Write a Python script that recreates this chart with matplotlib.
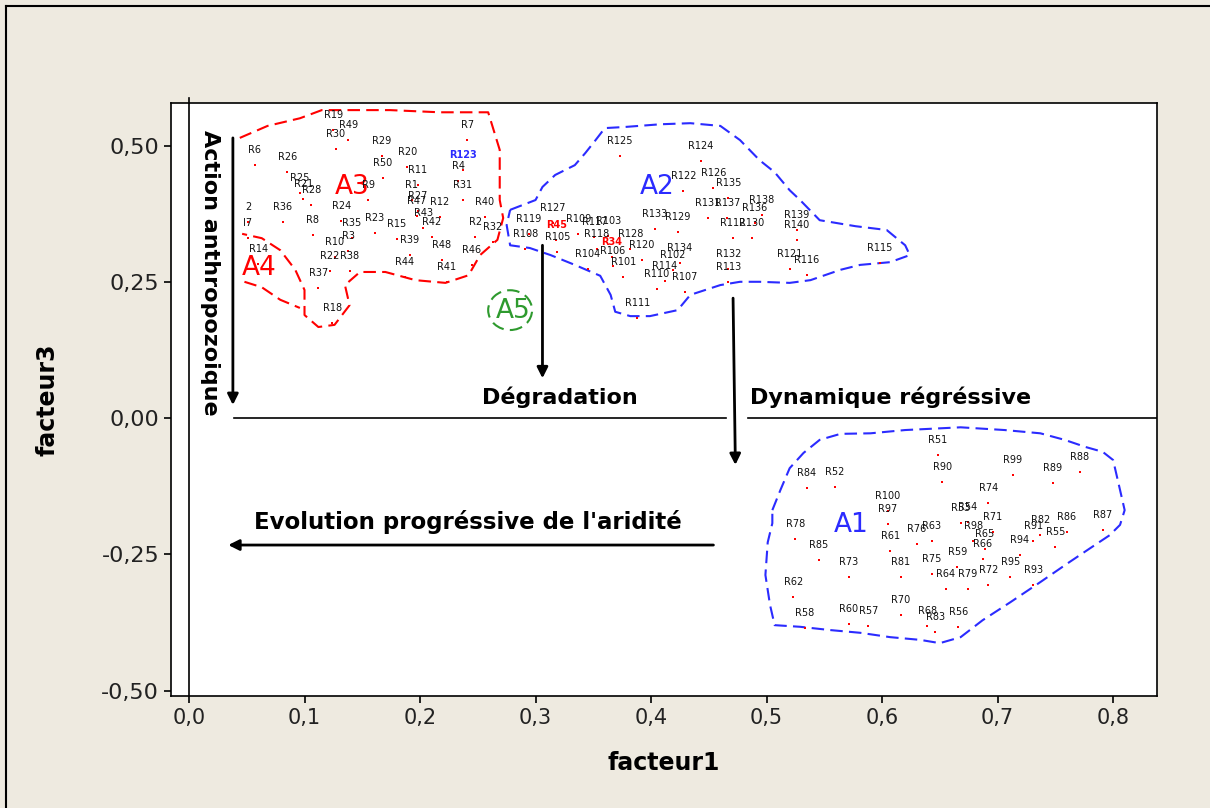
import matplotlib.pyplot as plt
from matplotlib.lines import Line2D
from matplotlib.patches import Ellipse

bg = '#EEEAE0'
red = '#FF0000'
blue = '#2B2BFF'
green = '#2E9A2E'

# groupe A3 / A4 (relevés anthropisés)
a34_names = ['R6', 'R26', 'R19', 'R49', 'R30', 'R25', 'R21', 'R28', '2', 'I7',
             'R36', 'R24', 'R14', 'R8', 'R35', 'R23', 'R15', 'R10', 'R3', 'R22',
             'R38', 'R37', 'R18', 'R29', 'R20', 'R50', 'R11', 'R1', 'R9', 'R7',
             'R4', 'R31', 'R40', 'R27', 'R47', 'R12', 'R43', 'R42', 'R2', 'R32',
             'R39', 'R48', 'R46', 'R44', 'R41']
a34_f1 = [0.057, 0.085, 0.125, 0.138, 0.127, 0.096, 0.099, 0.106, 0.051, 0.051,
          0.081, 0.132, 0.060, 0.107, 0.141, 0.161, 0.180, 0.126, 0.138, 0.122,
          0.139, 0.112, 0.124, 0.167, 0.189, 0.168, 0.198, 0.193, 0.155, 0.241,
          0.233, 0.237, 0.256, 0.198, 0.197, 0.217, 0.203, 0.210, 0.248, 0.263,
          0.191, 0.219, 0.245, 0.187, 0.223]
a34_f3 = [0.464, 0.451, 0.528, 0.510, 0.494, 0.413, 0.402, 0.391, 0.360, 0.330,
          0.360, 0.361, 0.283, 0.336, 0.330, 0.339, 0.328, 0.295, 0.306, 0.270,
          0.270, 0.239, 0.174, 0.481, 0.461, 0.440, 0.428, 0.400, 0.400, 0.510,
          0.435, 0.400, 0.369, 0.380, 0.371, 0.369, 0.349, 0.332, 0.332, 0.323,
          0.299, 0.290, 0.281, 0.259, 0.250]

# groupe A2
a2_names = ['R125', 'R124', 'R122', 'R126', 'R135', 'R127', 'R119', 'R108', 'R105', 'R109',
            'R117', 'R103', 'R118', 'R128', 'R106', 'R104', 'R120', 'R101', 'R133', 'R129',
            'R134', 'R102', 'R114', 'R110', 'R107', 'R111', 'R131', 'R137', 'R138', 'R136',
            'R112', 'R130', 'R139', 'R140', 'R132', 'R113', 'R121', 'R116', 'R115']
a2_f1 = [0.373, 0.443, 0.428, 0.454, 0.467, 0.315, 0.294, 0.291, 0.319, 0.337,
         0.351, 0.363, 0.353, 0.382, 0.367, 0.345, 0.392, 0.376, 0.403, 0.423,
         0.425, 0.419, 0.412, 0.405, 0.429, 0.388, 0.449, 0.466, 0.496, 0.490,
         0.471, 0.487, 0.526, 0.526, 0.467, 0.467, 0.520, 0.535, 0.598]
a2_f3 = [0.481, 0.472, 0.417, 0.422, 0.404, 0.358, 0.338, 0.310, 0.305, 0.338,
         0.332, 0.334, 0.310, 0.310, 0.279, 0.273, 0.290, 0.259, 0.347, 0.341,
         0.284, 0.272, 0.251, 0.237, 0.231, 0.183, 0.367, 0.367, 0.372, 0.358,
         0.330, 0.330, 0.345, 0.327, 0.273, 0.250, 0.273, 0.262, 0.284]

# groupe A1
a1_names = ['R51', 'R90', 'R84', 'R52', 'R100', 'R97', 'R78', 'R61', 'R76', 'R63',
            'R99', 'R89', 'R88', 'R74', 'R53', 'R54', 'R71', 'R86', 'R87', 'R55',
            'R85', 'R73', 'R62', 'R58', 'R60', 'R57', 'R81', 'R75', 'R70', 'R68',
            'R83', 'R64', 'R79', 'R72', 'R59', 'R56', 'R93', 'R98', 'R65', 'R66',
            'R91', 'R82', 'R94', 'R95']
a1_f1 = [0.648, 0.652, 0.535, 0.559, 0.605, 0.605, 0.525, 0.607, 0.630, 0.643,
         0.713, 0.748, 0.771, 0.692, 0.668, 0.674, 0.696, 0.760, 0.791, 0.750,
         0.545, 0.571, 0.523, 0.533, 0.571, 0.588, 0.616, 0.643, 0.616, 0.639,
         0.646, 0.655, 0.674, 0.692, 0.665, 0.666, 0.731, 0.679, 0.689, 0.687,
         0.731, 0.737, 0.719, 0.711]
a1_f3 = [-0.068, -0.117, -0.128, -0.127, -0.171, -0.194, -0.222, -0.244, -0.231, -0.226,
         -0.105, -0.119, -0.099, -0.156, -0.193, -0.191, -0.209, -0.209, -0.206, -0.237,
         -0.261, -0.292, -0.328, -0.385, -0.378, -0.382, -0.292, -0.286, -0.361, -0.382,
         -0.393, -0.314, -0.314, -0.306, -0.273, -0.383, -0.306, -0.226, -0.241, -0.259,
         -0.226, -0.215, -0.251, -0.292]

# relevés mis en évidence
hi_names = ['R123', 'R45', 'R34']
hi_f1 = [0.237, 0.318, 0.366]
hi_f3 = [0.455, 0.327, 0.295]
hi_colors = [blue, red, red]

# contours des groupes
a3_env_f1 = [0.044, 0.068, 0.096, 0.115, 0.174, 0.217, 0.259, 0.269, 0.269, 0.272,
             0.267, 0.252, 0.242, 0.222, 0.196, 0.170, 0.148, 0.135, 0.139, 0.126,
             0.112, 0.100, 0.100, 0.092, 0.079, 0.063, 0.046]
a3_env_f3 = [0.514, 0.536, 0.550, 0.565, 0.565, 0.561, 0.561, 0.492, 0.400, 0.367,
             0.327, 0.299, 0.262, 0.248, 0.253, 0.268, 0.268, 0.244, 0.207, 0.171,
             0.167, 0.189, 0.235, 0.272, 0.308, 0.330, 0.338]
a4_env_f1 = [0.048, 0.063, 0.079, 0.096]
a4_env_f3 = [0.250, 0.240, 0.217, 0.202]
a2_env_f1 = [0.278, 0.300, 0.306, 0.317, 0.334, 0.343, 0.352, 0.360, 0.377, 0.408,
             0.434, 0.460, 0.477, 0.494, 0.507, 0.520, 0.529, 0.546, 0.577, 0.604,
             0.620, 0.624, 0.607, 0.581, 0.564, 0.538, 0.520, 0.494, 0.477, 0.460,
             0.434, 0.423, 0.399, 0.382, 0.369, 0.365, 0.356, 0.334, 0.313, 0.295,
             0.278, 0.275, 0.278]
a2_env_f3 = [0.382, 0.400, 0.424, 0.446, 0.464, 0.486, 0.510, 0.532, 0.534, 0.539,
             0.541, 0.536, 0.510, 0.473, 0.451, 0.418, 0.400, 0.363, 0.352, 0.345,
             0.317, 0.299, 0.286, 0.281, 0.272, 0.253, 0.248, 0.250, 0.250, 0.244,
             0.226, 0.198, 0.187, 0.187, 0.195, 0.226, 0.261, 0.281, 0.299, 0.312,
             0.317, 0.354, 0.382]
a1_env_f1 = [0.505, 0.512, 0.520, 0.532, 0.546, 0.564, 0.590, 0.620, 0.668, 0.706,
             0.737, 0.758, 0.776, 0.791, 0.800, 0.806, 0.810, 0.806, 0.797, 0.780,
             0.761, 0.737, 0.711, 0.687, 0.668, 0.650, 0.633, 0.607, 0.581, 0.555,
             0.529, 0.507, 0.503, 0.499, 0.501, 0.505, 0.505]
a1_env_f3 = [-0.169, -0.132, -0.092, -0.064, -0.040, -0.029, -0.028, -0.022, -0.017, -0.022,
             -0.028, -0.040, -0.053, -0.062, -0.077, -0.132, -0.169, -0.196, -0.215, -0.239,
             -0.266, -0.301, -0.338, -0.371, -0.402, -0.413, -0.407, -0.402, -0.394, -0.389,
             -0.383, -0.380, -0.343, -0.288, -0.228, -0.193, -0.169]

x_ticks = [0.0, 0.1, 0.2, 0.3, 0.4, 0.5, 0.6, 0.7, 0.8]
x_tick_labels = ['0,0', '0,1', '0,2', '0,3', '0,4', '0,5', '0,6', '0,7', '0,8']
y_ticks = [0.5, 0.25, 0.0, -0.25, -0.5]
y_tick_labels = ['0,50', '0,25', '0,00', '-0,25', '-0,50']

fig = plt.figure(figsize=(12.1, 8.08), dpi=100, facecolor=bg)
ax = fig.add_axes([0.1413, 0.1386, 0.8149, 0.7339])
ax.set_facecolor('white')
ax.set_xlim(-0.0156, 0.838)
ax.set_ylim(-0.510, 0.578)

# cadre extérieur
fig.add_artist(Line2D([6 / 1210, 6 / 1210], [0, 1 - 6 / 808], color='black', lw=1.5))
fig.add_artist(Line2D([6 / 1210, 1], [1 - 6 / 808, 1 - 6 / 808], color='black', lw=1.5))

# axes de référence
ax.axvline(0, color='black', lw=1.2, zorder=1)
ax.plot([0.039, 0.465], [0, 0], color='black', lw=1.2, zorder=1)
ax.plot([0.484, 0.838], [0, 0], color='black', lw=1.2, zorder=1)
ax.plot([0, 0], [0.578, 0.588], color='black', lw=1.2, clip_on=False)

# contours
dash = (0, (6, 3))
ax.plot(a3_env_f1, a3_env_f3, color=red, lw=1.5, ls=dash)
ax.plot(a4_env_f1, a4_env_f3, color=red, lw=1.5, ls=dash)
ax.plot(a2_env_f1, a2_env_f3, color=blue, lw=1.5, ls=dash)
ax.plot(a1_env_f1, a1_env_f3, color=blue, lw=1.5, ls=dash)
ax.add_patch(Ellipse((0.278, 0.198), 0.038, 0.073, fill=False, ec=green, lw=1.5, ls=dash))

# relevés
for names, f1, f3 in [(a34_names, a34_f1, a34_f3), (a2_names, a2_f1, a2_f3),
                      (a1_names, a1_f1, a1_f3)]:
    ax.scatter(f1, f3, s=4, marker='s', color=red, linewidths=0, zorder=3)
    for name, x, y in zip(names, f1, f3):
        ax.annotate(name, (x, y), xytext=(0, 15), textcoords='offset pixels',
                    ha='center', va='center', fontsize=7, color='#111111', zorder=4)

ax.scatter(hi_f1, hi_f3, s=4, marker='s', color=red, linewidths=0, zorder=3)
for name, x, y, c in zip(hi_names, hi_f1, hi_f3, hi_colors):
    ax.annotate(name, (x, y), xytext=(0, 15), textcoords='offset pixels',
                ha='center', va='center', fontsize=7, color=c, fontweight='bold', zorder=4)

# noms des groupes
ax.text(0.141, 0.424, 'A3', color=red, fontsize=19, ha='center', va='center')
ax.text(0.061, 0.275, 'A4', color=red, fontsize=19, ha='center', va='center')
ax.text(0.281, 0.196, 'A5', color=green, fontsize=19, ha='center', va='center')
ax.text(0.405, 0.424, 'A2', color=blue, fontsize=19, ha='center', va='center')
ax.text(0.573, -0.196, 'A1', color=blue, fontsize=19, ha='center', va='center')

# flèches et interprétation
arrow = dict(arrowstyle='-|>', color='black', lw=2, mutation_scale=16, shrinkA=0, shrinkB=0)
ax.annotate('', xy=(0.038, 0.024), xytext=(0.038, 0.514), arrowprops=arrow)
ax.annotate('', xy=(0.306, 0.073), xytext=(0.306, 0.317), arrowprops=arrow)
ax.annotate('', xy=(0.473, -0.086), xytext=(0.471, 0.220), arrowprops=arrow)
ax.annotate('', xy=(0.034, -0.233), xytext=(0.454, -0.233), arrowprops=arrow)

ax.text(0.018, 0.266, 'Action anthropozoique', rotation=-90, fontsize=16,
        fontweight='bold', ha='center', va='center')
ax.text(0.321, 0.0385, 'Dégradation', fontsize=16, fontweight='bold', ha='center', va='center')
ax.text(0.607, 0.0385, 'Dynamique régréssive', fontsize=16, fontweight='bold',
        ha='center', va='center')
ax.text(0.241, -0.191, "Evolution progréssive de l'aridité", fontsize=16.5,
        fontweight='bold', ha='center', va='center')

ax.set_xticks(x_ticks, x_tick_labels, fontsize=15)
ax.set_yticks(y_ticks, y_tick_labels, fontsize=16)
ax.tick_params(direction='out', length=5, width=1.2, colors='black', labelcolor='#222222')
for s in ax.spines.values():
    s.set_linewidth(1.2)
ax.set_xlabel('facteur1', fontsize=17, fontweight='bold', labelpad=17)
ax.set_ylabel('facteur3', fontsize=17, fontweight='bold', labelpad=30)

fig.savefig('out.png', dpi=100, facecolor=bg)
